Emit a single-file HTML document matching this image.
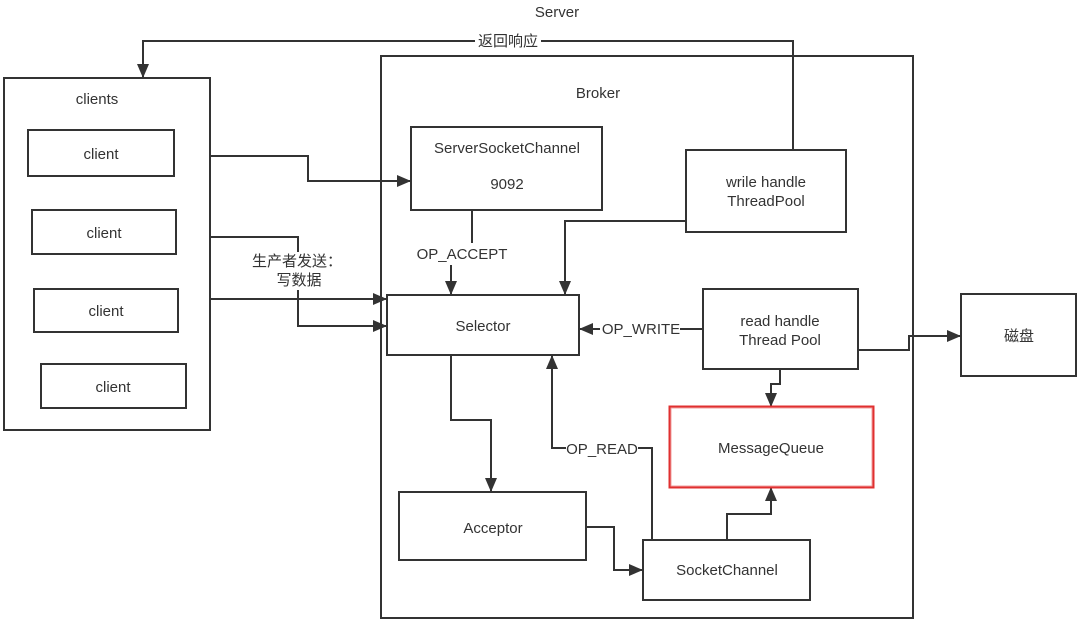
<!DOCTYPE html>
<html><head><meta charset="utf-8"><style>
html,body{margin:0;padding:0;background:#fff;}
svg{display:block;}
text{font-family:"Liberation Sans","Noto Sans CJK SC",sans-serif;font-size:15px;fill:#333;}
</style></head><body>
<svg width="1080" height="622" viewBox="0 0 1080 622" xmlns="http://www.w3.org/2000/svg">
<defs><marker id="a" markerWidth="10" markerHeight="10" refX="9" refY="5" orient="auto" markerUnits="userSpaceOnUse"><path d="M0,0 L10,5 L0,10 z" fill="#333"/></marker>
<marker id="b" markerWidth="14" markerHeight="14" refX="13" refY="7" orient="auto" markerUnits="userSpaceOnUse"><path d="M0,1 L14,7 L0,13 z" fill="#333"/></marker></defs>
<g fill="none" stroke="#333" stroke-width="2">
<rect x="4" y="78" width="206" height="352"/>
<rect x="28" y="130" width="146" height="46"/>
<rect x="32" y="210" width="144" height="44"/>
<rect x="34" y="289" width="144" height="43"/>
<rect x="41" y="364" width="145" height="44"/>
<rect x="381" y="56" width="532" height="562"/>
<rect x="411" y="127" width="191" height="83"/>
<rect x="686" y="150" width="160" height="82"/>
<rect x="387" y="295" width="192" height="60"/>
<rect x="703" y="289" width="155" height="80"/>
<rect x="399" y="492" width="187" height="68"/>
<rect x="643" y="540" width="167" height="60"/>
<rect x="961" y="294" width="115" height="82"/>
<path d="M793,150 V41 H143 V77" marker-end="url(#b)"/>
<path d="M210,156 H308 V181 H410" marker-end="url(#b)"/>
<path d="M210,237 H298 V326 H386" marker-end="url(#b)"/>
<path d="M210,299 H386" marker-end="url(#b)"/>
<path d="M472,210 V243"/>
<path d="M451,265 V294" marker-end="url(#b)"/>
<path d="M686,221 H565 V294" marker-end="url(#b)"/>
<path d="M703,329 H580" marker-end="url(#b)"/>
<path d="M780,369 V384 H771 V406" marker-end="url(#b)"/>
<path d="M858,350 H909 V336 H960" marker-end="url(#b)"/>
<path d="M451,355 V420 H491 V491" marker-end="url(#b)"/>
<path d="M652,540 V448 H552 V356" marker-end="url(#b)"/>
<path d="M586,527 H614 V570 H642" marker-end="url(#b)"/>
<path d="M727,540 V514 H771 V488" marker-end="url(#b)"/>
</g>
<rect x="670" y="407" width="203" height="80" fill="none" stroke="#e03030" stroke-width="3"/>
<rect x="671" y="408" width="201" height="78" fill="none" stroke="#f0a0a0" stroke-width="1"/>
<g text-anchor="middle">
<text x="557" y="17">Server</text>
<rect x="475" y="32" width="66" height="18" fill="#fff"/>
<text x="508" y="46">返回响应</text>
<text x="97" y="104">clients</text>
<text x="101" y="159">client</text>
<text x="104" y="238">client</text>
<text x="106" y="316">client</text>
<text x="113" y="392">client</text>
<text x="598" y="98">Broker</text>
<text x="507" y="153">ServerSocketChannel</text>
<text x="507" y="189">9092</text>
<text x="766" y="187">wrile handle</text>
<text x="766" y="206">ThreadPool</text>
<text x="483" y="331">Selector</text>
<text x="780" y="326">read handle</text>
<text x="780" y="345">Thread Pool</text>
<text x="771" y="453">MessageQueue</text>
<text x="493" y="533">Acceptor</text>
<text x="727" y="575">SocketChannel</text>
<text x="1019" y="341">磁盘</text>
<rect x="252" y="252" width="90" height="38" fill="#fff"/>
<text x="297" y="266">生产者发送：</text>
<text x="299" y="285">写数据</text>
<rect x="418" y="244" width="88" height="20" fill="#fff"/>
<text x="462" y="259">OP_ACCEPT</text>
<rect x="600" y="319" width="80" height="20" fill="#fff"/>
<text x="641" y="334">OP_WRITE</text>
<rect x="566" y="439" width="72" height="20" fill="#fff"/>
<text x="602" y="454">OP_READ</text>
</g>
</svg>
</body></html>
